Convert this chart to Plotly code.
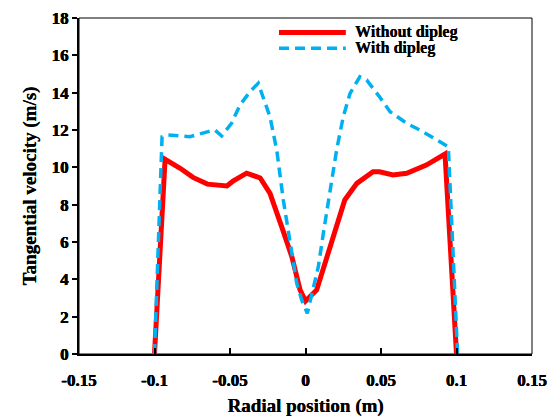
import plotly.graph_objects as go

series_names = ["Without dipleg", "With dipleg"]

x_without = [-0.1, -0.093, -0.083, -0.0745, -0.065, -0.057, -0.052, -0.048, -0.039, -0.030,
             -0.0235, -0.015, -0.009, -0.0036, 0.0, 0.0074, 0.013, 0.0206, 0.026, 0.034,
             0.0447, 0.049, 0.058, 0.067, 0.080, 0.0924, 0.1]
y_without = [0, 10.43, 9.95, 9.46, 9.1, 9.0, 9.0, 9.27, 9.69, 9.43,
             8.6, 6.64, 5.2, 3.43, 2.84, 3.43, 4.86, 6.82, 8.25, 9.14,
             9.76, 9.76, 9.59, 9.68, 10.12, 10.71, 0]

x_with = [-0.1, -0.095, -0.091, -0.0765, -0.065, -0.060, -0.0555, -0.049, -0.0434, -0.0368,
          -0.0313, -0.028, -0.0235, -0.019, -0.0147, -0.0058, -0.0025, 0.0012, 0.004, 0.0085,
          0.0118, 0.016, 0.0206, 0.025, 0.0295, 0.036, 0.0405, 0.049, 0.056, 0.067,
          0.078, 0.089, 0.0946, 0.1007]
y_with = [0, 11.64, 11.73, 11.64, 11.9, 12.0, 11.68, 12.36, 13.34, 14.05,
          14.5, 13.7, 12.7, 10.9, 8.25, 3.79, 2.89, 2.18, 3.07, 4.68,
          6.46, 8.6, 10.93, 12.71, 13.96, 14.85, 14.68, 13.78, 12.98, 12.36,
          11.9, 11.37, 11.1, 0]

x_ticks = [-0.15, -0.1, -0.05, 0, 0.05, 0.1, 0.15]
x_ticklabels = ["-0.15", "-0.1", "-0.05", "0", "0.05", "0.1", "0.15"]
y_ticks = [0, 2, 4, 6, 8, 10, 12, 14, 16, 18]
y_ticklabels = ["0", "2", "4", "6", "8", "10", "12", "14", "16", "18"]

RED = "#FF0000"
BLUE = "#00B0F0"
FONT = "Liberation Serif"
HEAVY = "0.4px 0 0 black, -0.2px 0 0 black"
HEAVY_T = "0.3px 0 0 black"

fig = go.Figure()
fig.add_trace(go.Scatter(x=x_without, y=y_without, mode="lines", name=series_names[0],
                         line=dict(color=RED, width=5), showlegend=False))
fig.add_trace(go.Scatter(x=x_with, y=y_with, mode="lines", name=series_names[1],
                         line=dict(color=BLUE, width=3.5, dash="10px,6px"), showlegend=False))

# manual legend (long line samples as in the reference)
leg = [(series_names[0], RED, 5, "solid", 0.957), (series_names[1], BLUE, 3.5, "10px,6px", 0.910)]
for name, col, w, d, yy in leg:
    fig.add_shape(type="line", xref="paper", yref="paper", x0=0.4415, x1=0.589, y0=yy, y1=yy,
                  line=dict(color=col, width=w, dash=d))
    fig.add_annotation(xref="paper", yref="paper", x=0.605, y=yy, text="<b>" + name + "</b>",
                       showarrow=False, xanchor="left", yanchor="middle",
                       font=dict(family=FONT, size=16, color="black", shadow=HEAVY_T))

# thin frame on top/right
fig.add_shape(type="rect", xref="paper", yref="paper", x0=0, x1=1, y0=0, y1=1,
              line=dict(color="black", width=1), layer="below")

fig.update_layout(
    width=557, height=417,
    margin=dict(l=79, r=25, t=18, b=63),
    paper_bgcolor="white", plot_bgcolor="white",
    font=dict(family=FONT, color="black"),
    xaxis=dict(range=[-0.15, 0.15], tickvals=x_ticks,
               ticktext=["<b>" + t + "</b>" for t in x_ticklabels],
               ticks="inside", ticklen=6, tickwidth=2, tickcolor="black",
               ticklabelstandoff=10, automargin=False,
               showline=True, linecolor="black", linewidth=2, showgrid=False, zeroline=False,
               tickfont=dict(family=FONT, size=17, color="black", shadow=HEAVY),
               title=dict(text="<b>Radial position (m)</b>", standoff=9,
                          font=dict(family=FONT, size=19, color="black", shadow=HEAVY_T))),
    yaxis=dict(range=[0, 18], tickvals=y_ticks,
               ticktext=["<b>" + t + "</b>" for t in y_ticklabels],
               ticks="outside", ticklen=5, tickwidth=2, tickcolor="black",
               automargin=False,
               showline=True, linecolor="black", linewidth=2, showgrid=False, zeroline=False,
               tickfont=dict(family=FONT, size=17, color="black", shadow=HEAVY),
               title=dict(text="<b>Tangential velocity (m/s)</b>", standoff=10,
                          font=dict(family=FONT, size=19, color="black", shadow=HEAVY_T))),
)

fig.write_html("out.html")
